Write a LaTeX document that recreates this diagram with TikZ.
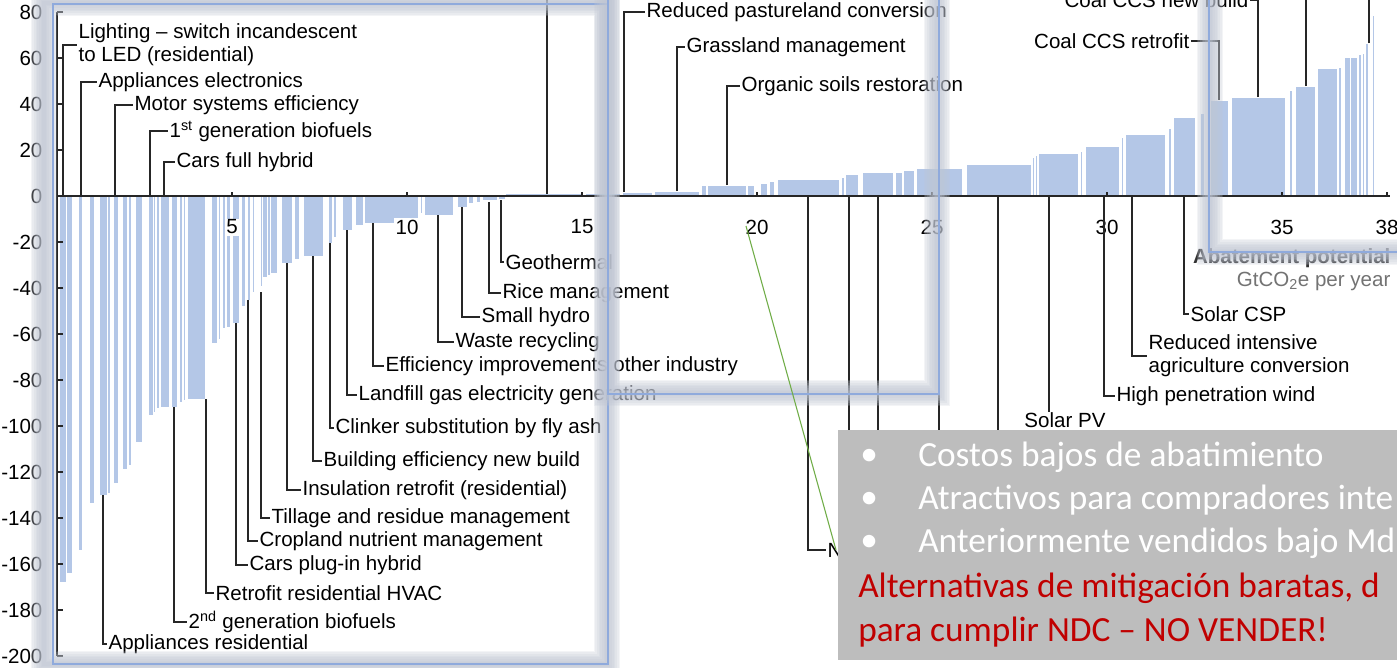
\documentclass[tikz,border=0pt]{standalone}
\usepackage{fontspec}
\setmainfont{Liberation Sans}
\newfontfamily\boxfont{Carlito}

\definecolor{barblue}{RGB}{180,199,231}
\definecolor{framegray}{RGB}{192,198,212}
\definecolor{frameblue}{RGB}{143,170,220}
\definecolor{boxgray}{RGB}{189,189,189}
\definecolor{alertred}{RGB}{192,0,0}
\definecolor{guidegreen}{RGB}{112,173,71}

\tikzset{
  bar/.style={fill=barblue, draw=white, line width=0.6pt},
  axisline/.style={draw=black!85, line width=0.9pt},
  leader/.style={draw=black!85, line width=0.9pt},
  lbl/.style={anchor=west, inner xsep=1pt, inner ysep=0pt, align=left,
    font=\fontsize{15.4}{17.5}\selectfont},
  ticklbl/.style={inner sep=1pt, font=\fontsize{15.4}{17.5}\selectfont},
  boxtxt/.style={anchor=west, inner sep=0pt, text=white,
    font=\boxfont\fontsize{26.5}{30}\selectfont},
  alerttxt/.style={boxtxt, text=alertred},
}

% soft frame: blurred band, then thin blue outline
\newcommand\softframe[2]{%
  \foreach \w in {20pt,17.5pt,15pt,12.5pt,10pt,7.5pt,5pt,2.5pt}
    \draw[framegray, opacity=0.19, line width=\w] #1;
  \draw[frameblue, line width=0.8pt] #2;}

\begin{document}
\begin{tikzpicture}[x=0.75pt, y=-0.75pt]
\useasboundingbox (0,0) rectangle (1397,668);
\clip (0,0) rectangle (1397,668);
\fill[white] (0,0) rectangle (1397,668);

% bars below zero
\foreach \xa/\xb/\yb in {59/66/582, 66/72/573, 78/82/550, 89/94/503, 99/107/495,
    107/110/493, 113/118/483, 122/127/469, 128/131/465, 135/142/442, 148/153/415,
    153/155/412, 156/159/408, 160/169/407, 171/177/407, 179/182/402, 183/185/400,
    187/205/399, 211/217/343, 218/220/339, 222/225/328, 226/230/327, 232/239/323,
    241/245/306, 247/250/300, 252/254/292, 260/262/286, 262/267/277, 267/270/275,
    270/277/273, 281/292/263, 294/299/259, 303/323/256, 328/332/243, 333/336/237,
    342/352/230, 355/363/225, 364/418/223, 420/422/213, 424/453/215, 457/467/207,
    468/473/203, 476/480/202, 482/497/200, 498/505/199}
  \draw[bar] (\xa,196) rectangle (\xb,\yb);

% bars above zero
\foreach \xa/\xb/\yt in {505/583/193.5, 585/620/193, 622/652/192, 654/699/191,
    701/706/185, 707/746/185, 747/754/185, 760/767/183, 769/774/181, 777/839/179,
    841/844/177, 845/858/174, 862/893/172, 895/902/172, 903/914/170, 916/962/168,
    966/1031/164, 1032/1034/157, 1035/1037/155, 1038/1078/153, 1080/1082/151,
    1085/1119/146, 1121/1123/137, 1125/1165/134, 1168/1171/128, 1173/1195/117,
    1197/1198/113, 1200/1204/113, 1210/1228/100, 1231/1285/97, 1289/1292/90,
    1295/1315/86, 1317/1337/68, 1338/1341/67, 1344/1350/57, 1350/1357/57,
    1358/1361/54, 1362/1364/53, 1365/1368/43, 1372/1374/15}
  \draw[bar] (\xa,196) rectangle (\xb,\yt);

% axes
\draw[axisline] (57,12) -- (57,656);
\draw[axisline] (57,196) -- (1390,196);
\foreach \v in {80,60,...,-200} {
  \draw[axisline] (57,{196-2.3*(\v)}) -- (63,{196-2.3*(\v)});
  \node[ticklbl, anchor=east] (ylab\v) at (44,{196-2.3*(\v)}) {\v};
}
\foreach \u in {5,10,15,20,25,30,35,38} {
  \draw[axisline] ({57+35*\u},196) -- ({57+35*\u},192);
  \node[ticklbl, fill=white] (xlab\u) at ({57+35*\u},227) {\u};
}

% labels above the axis, left part
\node[lbl] (lighting) at (77,45) {Lighting – switch incandescent\\to LED (residential)};
\node[lbl] (applelec) at (97,82) {Appliances electronics};
\node[lbl] (motor) at (133,105) {Motor systems efficiency};
\node[lbl] (biofirst) at (168,131) {1\textsuperscript{st} generation biofuels};
\node[lbl] (carsfull) at (175,162) {Cars full hybrid};
\draw[leader] (63,196) |- (lighting.west);
\draw[leader] (81,196) |- (applelec.west);
\draw[leader] (115,196) |- (motor.west);
\draw[leader] (150,196) |- (biofirst.west);
\draw[leader] (164,196) |- (carsfull.west);

% labels below the axis, left part
\node[lbl] (applres) at (107,644) {Appliances residential};
\node[lbl] (biosecond) at (187,622) {2\textsuperscript{nd} generation biofuels};
\node[lbl] (hvac) at (214,593) {Retrofit residential HVAC};
\node[lbl] (plugin) at (248,565) {Cars plug-in hybrid};
\node[lbl] (cropland) at (258,541) {Cropland nutrient management};
\node[lbl] (tillage) at (270,518) {Tillage and residue management};
\node[lbl] (insulation) at (301,490) {Insulation retrofit (residential)};
\node[lbl] (building) at (322,461) {Building efficiency new build};
\node[lbl] (clinker) at (334,428) {Clinker substitution by fly ash};
\node[lbl] (landfill) at (357,395) {Landfill gas electricity generation};
\node[lbl] (effother) at (384,366) {Efficiency improvements other industry};
\node[lbl] (waste) at (454,342) {Waste recycling};
\node[lbl] (smallhydro) at (480,317) {Small hydro};
\node[lbl] (rice) at (501,293) {Rice management};
\node[lbl] (geothermal) at (504,262) {Geothermal};
\draw[leader] (103,495) |- (applres.west);
\draw[leader] (174,407) |- (biosecond.west);
\draw[leader] (206,399) |- (hvac.west);
\draw[leader] (236,323) |- (plugin.west);
\draw[leader] (248,300) |- (cropland.west);
\draw[leader] (261,292) |- (tillage.west);
\draw[leader] (287,263) |- (insulation.west);
\draw[leader] (313,256) |- (building.west);
\draw[leader] (330,243) |- (clinker.west);
\draw[leader] (347,230) |- (landfill.west);
\draw[leader] (373,223) |- (effother.west);
\draw[leader] (438,215) |- (waste.west);
\draw[leader] (462,207) |- (smallhydro.west);
\draw[leader] (489,202) |- (rice.west);
\draw[leader] (501,200) |- (geothermal.west);

% labels in the middle
\node[lbl] (pasture) at (645,12) {Reduced pastureland conversion};
\node[lbl] (grassland) at (685,47) {Grassland management};
\node[lbl] (organic) at (740,86) {Organic soils restoration};
\draw[leader] (624,192) |- (pasture.west);
\draw[leader] (677,191) |- (grassland.west);
\draw[leader] (727,185) |- (organic.west);

% leaders whose labels lie outside the view
\coordinate (offa) at (547,-10);
\coordinate (offb) at (1306,-10);
\coordinate (offc) at (1369,-10);
\draw[leader] (547,194) -- (offa);
\draw[leader] (1306,86) -- (offb);
\draw[leader] (1369,43) -- (offc);
\foreach \hx in {849,878,939,998}
  \draw[leader] (\hx,196) -- (\hx,445);

% labels on the right
\node[lbl] (nuclear) at (826,550) {N};
\node[lbl] (solarpv) at (1065,420) [anchor=center] {Solar PV};
\node[lbl] (highwind) at (1115,396) {High penetration wind};
\node[lbl] (redintensive) at (1147,356) {Reduced intensive\\agriculture conversion};
\node[lbl] (solarcsp) at (1189,314) {Solar CSP};
\node[lbl, anchor=east] (coalretro) at (1191,41) {Coal CCS retrofit};
\node[lbl, anchor=east] (coalnew) at (1250,0) {Coal CCS new build};
\draw[leader] (808,196) |- (nuclear.west);
\draw[leader] (1049,196) -- (1049,0 |- solarpv.north);
\draw[leader] (1104,196) |- (highwind.west);
\draw[leader] (1132,196) |- (redintensive.west);
\draw[leader] (1184,196) |- (solarcsp.west);
\draw[leader] (1219,100) |- (coalretro.east);
\draw[leader] (1258,97) |- (coalnew.east);

% axis title
\node[ticklbl, anchor=east, text=black!80, font=\bfseries\fontsize{15.4}{17.5}\selectfont] (abate) at (1392,258) {Abatement potential};
\node[ticklbl, anchor=east, text=black!55] (unit) at (1392,281) {GtCO\textsubscript{2}e per year};

% soft picture frames
\softframe{(44,3) rectangle (607,664)}{(53,4) rectangle (608,664)}
\softframe{(607,-40) rectangle (937,393)}{(608,-40) rectangle (939,394)}
\softframe{(1210,-40) rectangle (1440,252)}{(1209,-40) rectangle (1440,252)}

% green pointer
\coordinate (gstart) at (746,226);
\coordinate (gend) at (836,550);
\draw[guidegreen, line width=0.8pt] (gstart) -- (gend);

% note box
\node[fill=boxgray, anchor=north west, inner sep=0pt, minimum width=430pt, minimum height=172.5pt] (notebox) at (838,430) {};
\node[boxtxt] (dota) at (860,457) {•};
\node[boxtxt] (dotb) at (860,500) {•};
\node[boxtxt] (dotc) at (860,543) {•};
\node[boxtxt] (costos) at (918,457) {Costos bajos de abatimiento};
\node[boxtxt] (atractivos) at (918,500) {Atractivos para compradores inte};
\node[boxtxt] (anteriormente) at (918,543) {Anteriormente vendidos bajo Md};
\node[alerttxt] (alternativas) at (858,588) {Alternativas de mitigación baratas, d};
\node[alerttxt] (cumplir) at (858,632) {para cumplir NDC – NO VENDER!};
\end{tikzpicture}
\end{document}
